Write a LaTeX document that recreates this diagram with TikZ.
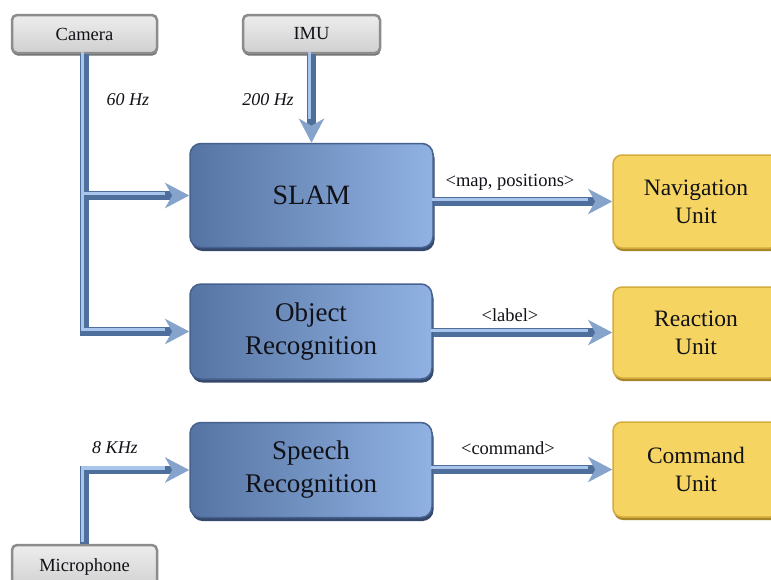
\documentclass[tikz,border=0pt]{standalone}
\usepackage{fontspec}
\setmainfont{Liberation Serif}
\usetikzlibrary{arrows.meta,shadows,calc}
\definecolor{bluel}{HTML}{5674A3}
\definecolor{bluer}{HTML}{90B2E3}
\definecolor{blueedge}{HTML}{46618E}
\definecolor{blueshadow}{HTML}{34486B}
\definecolor{yfill}{HTML}{F5D462}
\definecolor{yedge}{HTML}{D4AC3E}
\definecolor{yshadow}{HTML}{A88528}
\definecolor{gtop}{HTML}{EDEDED}
\definecolor{gbot}{HTML}{D0D0D0}
\definecolor{gedge}{HTML}{8C8C8C}
\definecolor{gshadow}{HTML}{6E6E6E}
\definecolor{flowdark}{HTML}{4E6F9C}
\definecolor{flowlight}{HTML}{A9C5EB}
\definecolor{tipcol}{HTML}{86A3CB}
\definecolor{txt}{HTML}{111118}
\tikzset{
  procbox/.style={rectangle, rounded corners=11pt, left color=bluel, right color=bluer,
    draw=blueedge, line width=1.5pt, inner sep=0pt, align=center, text=txt,
    general shadow={fill=blueshadow, shadow xshift=1.5pt, shadow yshift=-3.5pt}},
  unitbox/.style={rectangle, rounded corners=9pt, fill=yfill, draw=yedge, line width=1.5pt,
    inner sep=0pt, align=center, text=txt,
    font=\fontsize{23.5}{28}\selectfont,
    general shadow={fill=yshadow, shadow xshift=1pt, shadow yshift=-3pt}},
  srcbox/.style={rectangle, rounded corners=5pt, top color=gtop, bottom color=gbot,
    draw=gedge, line width=2.5pt, inner sep=0pt, text=txt,
    font=\fontsize{18.5}{20}\selectfont,
    general shadow={fill=gshadow, shadow xshift=0.5pt, shadow yshift=-2.5pt}},
  flow/.style={draw=flowdark, line width=8.5pt,
    -{Stealth[length=24pt,width=25pt,inset=7pt,color=tipcol]}},
  hl/.style={draw=flowlight, line width=3.5pt, shorten >=22pt, transform canvas={xshift=-1.8pt,yshift=1.8pt}},
  ratelbl/.style={font=\itshape\fontsize{18}{20}\selectfont, text=txt},
  msglbl/.style={font=\fontsize{18.5}{20}\selectfont, text=txt},
}
\begin{document}
\begin{tikzpicture}[x=1pt,y=-1pt]
\useasboundingbox (0,0) rectangle (771,579);
\clip (0,0) rectangle (771,579);
\fill[white] (0,0) rectangle (771,579);

% sources
\node[srcbox, minimum width=145pt, minimum height=38pt] (camera) at (84.5,34) {Camera};
\node[srcbox, minimum width=137pt, minimum height=38pt] (imu) at (311.5,34) {IMU};
\node[srcbox, minimum width=145pt, minimum height=44pt] (mic) at (84.5,567) {Microphone};

% processing boxes
\node[procbox, minimum width=243pt, minimum height=104pt, font=\fontsize{28}{30}\selectfont] (slam) at (311.5,195.5) {SLAM};
\node[procbox, minimum width=242pt, minimum height=95pt, font=\fontsize{27}{33}\selectfont] (object) at (311,331.5) {Object\\Recognition};
\node[procbox, minimum width=242pt, minimum height=95pt, font=\fontsize{27}{33}\selectfont] (speech) at (311,470) {Speech\\Recognition};

% units
\node[unitbox, minimum width=166pt, minimum height=93pt] (nav) at (696,201.5) {Navigation\\Unit};
\node[unitbox, minimum width=166pt, minimum height=91pt] (react) at (696,332.5) {Reaction\\Unit};
\node[unitbox, minimum width=166pt, minimum height=95pt] (cmd) at (696,469.5) {Command\\Unit};

% connectors
\coordinate (branch) at (camera.south |- slam.west);
\draw[flow] (camera.south) |- (object.west);
\draw[flow] (branch) -- (slam.west);
\draw[flow] (imu.south) -- (slam.north);
\draw[flow] (mic.north) |- (speech.west);
\draw[flow] (slam.east |- nav.west) -- (nav.west);
\draw[flow] (object.east |- react.west) -- (react.west);
\draw[flow] (speech.east |- cmd.west) -- (cmd.west);
\draw[hl] (camera.south) |- (object.west);
\draw[hl] (branch) -- (slam.west);
\draw[hl] (imu.south) -- (slam.north);
\draw[hl] (mic.north) |- (speech.west);
\draw[hl] (slam.east |- nav.west) -- (nav.west);
\draw[hl] (object.east |- react.west) -- (react.west);
\draw[hl] (speech.east |- cmd.west) -- (cmd.west);

% labels
\node[ratelbl] (r60) at (128,100) {60 Hz};
\node[ratelbl] (r200) at (268,100) {200 Hz};
\node[ratelbl] (r8) at (115,448) {8 KHz};
\node[msglbl] (mmap) at (510,182) {<map, positions>};
\node[msglbl] (mlabel) at (510,315) {<label>};
\node[msglbl] (mcmd) at (508,448) {<command>};
\end{tikzpicture}
\end{document}
